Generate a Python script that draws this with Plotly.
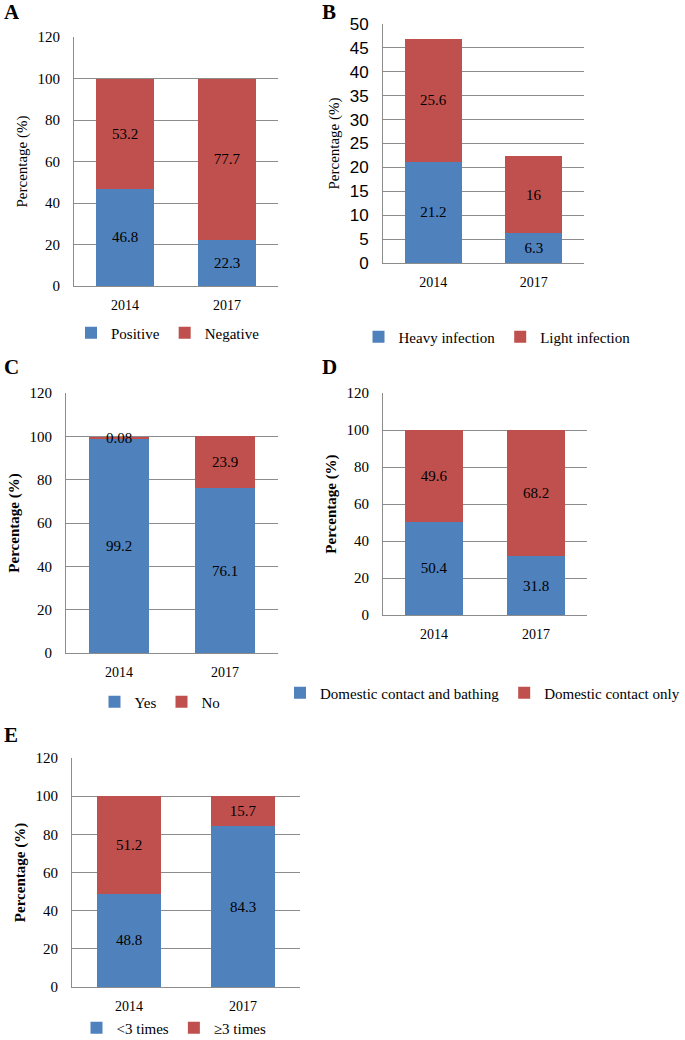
import plotly.graph_objects as go

W, H = 685, 1040

years = ["2014", "2017"]

# Panel A
a_pos = [46.8, 22.3]
a_neg = [53.2, 77.7]
# Panel B
b_heavy = [21.2, 6.3]
b_light = [25.6, 16]
# Panel C
c_yes = [99.2, 76.1]
c_no = [0.08, 23.9]
# Panel D
d_bath = [50.4, 31.8]
d_only = [49.6, 68.2]
# Panel E
e_lt3 = [48.8, 84.3]
e_ge3 = [51.2, 15.7]

BLUE = "#4F81BD"
RED = "#C0504D"
GRID = "#8c8c8c"
SERIF = "Liberation Serif"
SANS = "Liberation Sans"

panels = [
    dict(s=[a_pos, a_neg], n=["Positive", "Negative"], x=(74, 278), y=(37, 286), yr=120, dt=20,
         bold=False, tf=SERIF, leg=(168, 333, "center"), lab=("A", 2, 12)),
    dict(s=[b_heavy, b_light], n=["Heavy infection", "Light infection"], x=(383, 584), y=(24, 263), yr=50, dt=5,
         bold=False, tf=SANS, leg=(497, 337, "center"), lab=("B", 320, 12)),
    dict(s=[c_yes, c_no], n=["Yes", "No"], x=(66, 278), y=(393, 653), yr=120, dt=20,
         bold=True, tf=SERIF, leg=(160, 702, "center"), lab=("C", 2, 367)),
    dict(s=[d_bath, d_only], n=["Domestic contact and bathing", "Domestic contact only"], x=(383, 587), y=(393, 615),
         yr=120, dt=20, bold=True, tf=SERIF, leg=(685, 693, "right"), lab=("D", 320, 367)),
    dict(s=[e_lt3, e_ge3], n=["<3 times", "≥3 times"], x=(72, 300), y=(758, 987), yr=120, dt=20,
         bold=True, tf=SERIF, leg=(174, 1028, "center"), lab=("E", 2, 735)),
]

fig = go.Figure()
layout = dict(
    width=W, height=H, margin=dict(l=0, r=0, t=0, b=0, autoexpand=False),
    paper_bgcolor="white", plot_bgcolor="white",
    barmode="stack", bargap=0.43,
    font=dict(family=SERIF, size=15, color="black"),
)
annotations = []
for i, p in enumerate(panels):
    k = "" if i == 0 else str(i + 1)
    xa, ya = "x" + k, "y" + k
    leg = "legend" + k
    for j, (vals, name) in enumerate(zip(p["s"], p["n"])):
        fig.add_trace(go.Bar(
            x=years, y=vals, name=name, xaxis=xa, yaxis=ya, legend=leg,
            marker=dict(color=BLUE if j == 0 else RED, line=dict(width=0)),
            text=[str(v) for v in vals], textposition="inside", insidetextanchor="middle",
            constraintext="none", textangle=0,
            textfont=dict(family=SERIF, size=15, color="black"),
            cliponaxis=False,
        ))
    x0, x1 = p["x"]
    y0, y1 = p["y"]
    layout["xaxis" + k] = dict(
        domain=[x0 / W, x1 / W], anchor=ya, type="category",
        showgrid=False, showline=True, linecolor=GRID, linewidth=1,
        ticks="", ticklabelstandoff=6, tickfont=dict(family=SERIF, size=14),
        fixedrange=True,
    )
    title_txt = "<b>Percentage (%)</b>" if p["bold"] else "Percentage (%)"
    layout["yaxis" + k] = dict(
        domain=[1 - y1 / H, 1 - y0 / H], anchor=xa,
        range=[0, p["yr"]], dtick=p["dt"], tick0=0,
        showgrid=True, gridcolor=GRID, gridwidth=1,
        showline=True, linecolor=GRID, linewidth=1, zeroline=False,
        ticks="", ticklabelstandoff=10,
        tickfont=dict(family=p["tf"], size=15 if p["tf"] == SERIF else 17),
        title=dict(text=title_txt, font=dict(family=SERIF, size=15), standoff=6),
        fixedrange=True,
    )
    lx, ly, anc = p["leg"]
    layout[leg] = dict(
        orientation="h", x=lx / W, y=1 - ly / H, xanchor=anc, yanchor="middle",
        font=dict(family=SERIF, size=15), bgcolor="rgba(0,0,0,0)",
        itemwidth=30, traceorder="normal", itemclick=False, itemdoubleclick=False,
    )
    t, tx, ty = p["lab"]
    annotations.append(dict(
        text="<b>%s</b>" % t, xref="paper", yref="paper", x=tx / W, y=1 - ty / H,
        xanchor="left", yanchor="middle", showarrow=False,
        font=dict(family=SERIF, size=21, color="black"),
    ))

layout["annotations"] = annotations
fig.update_layout(**layout)
fig.write_html("out.html", config={"displayModeBar": False},
               post_script="document.body.style.margin='0';")
